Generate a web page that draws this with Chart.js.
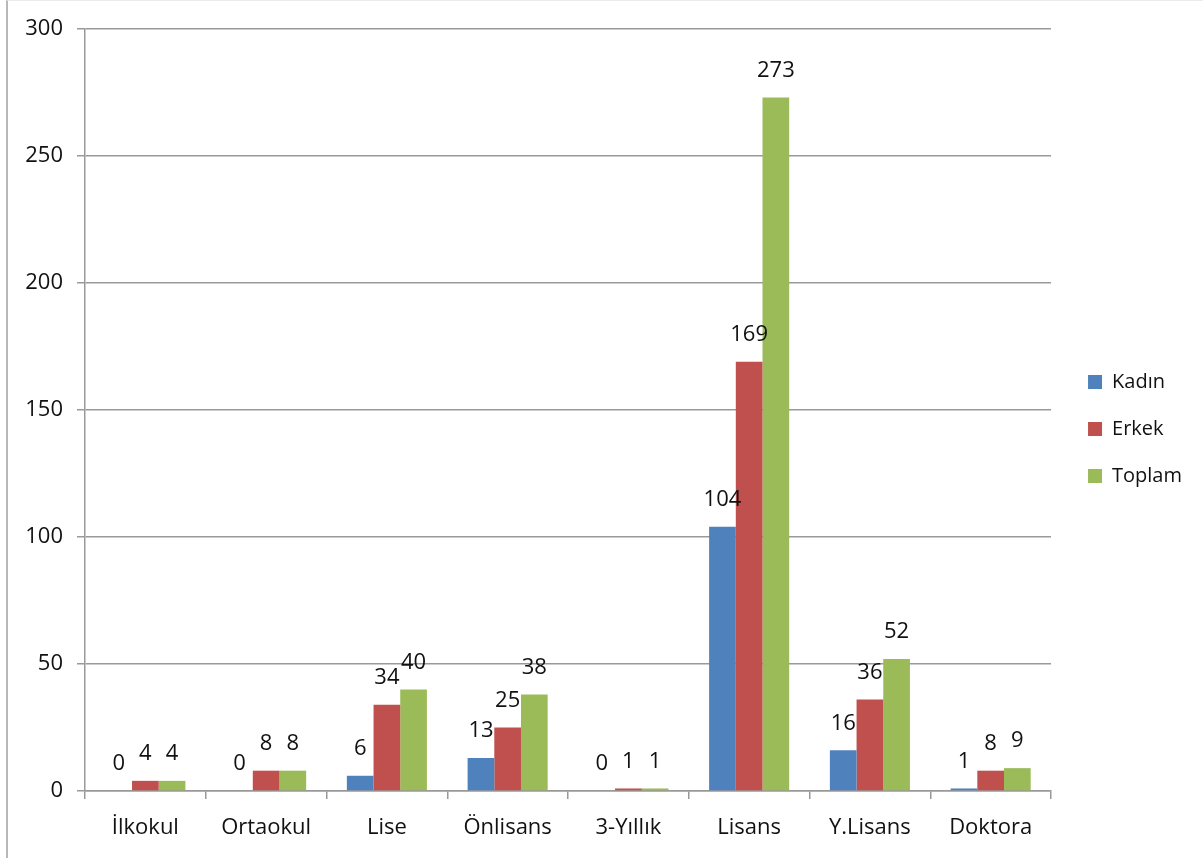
<!DOCTYPE html>
<html lang="tr">
<head>
    <meta charset="UTF-8">
    <title>Eğitim Durumu</title>
    <script src="https://cdn.jsdelivr.net/npm/chart.js"></script>
    <style>
        body { margin: 0; background: #fff; }
        .wrap { position: relative; width: 1203px; height: 858px; }
        .frame {
            position: absolute; left: 6px; top: 0; width: 1195px; height: 870px;
            border-left: 2px solid #b8b8b8; border-right: 1px solid #a8a8a8; border-top: 1px solid #ececec;
            pointer-events: none;
        }
    </style>
</head>
<body>
<div class="wrap">
    <canvas id="egitimChart"></canvas>
    <div class="frame"></div>
</div>
<script>
    // veriler
    const kategoriler = ['İlkokul', 'Ortaokul', 'Lise', 'Önlisans', '3-Yıllık', 'Lisans', 'Y.Lisans', 'Doktora'];
    const kadin = [0, 0, 6, 13, 0, 104, 16, 1];
    const erkek = [4, 8, 34, 25, 1, 169, 36, 8];
    const toplam = [4, 8, 40, 38, 1, 273, 52, 9];
    const yTicks = [0, 50, 100, 150, 200, 250, 300];

    const FONT = "'Open Sans', sans-serif";

    // bar üstüne değer yazan eklenti
    const degerEtiketi = {
        id: 'degerEtiketi',
        afterDatasetsDraw(chart) {
            const ctx = chart.ctx;
            ctx.save();
            ctx.font = '22px ' + FONT;
            ctx.fillStyle = '#111';
            ctx.textAlign = 'center';
            ctx.textBaseline = 'middle';
            chart.data.datasets.forEach((ds, i) => {
                chart.getDatasetMeta(i).data.forEach((bar, j) => {
                    ctx.fillText(ds.data[j], bar.x, bar.y - 27);
                });
            });
            ctx.restore();
        }
    };

    // legend biraz sağa kaysın
    const legendKaydir = {
        id: 'legendKaydir',
        afterLayout(chart) {
            chart.legend.left += 10;
            chart.legend.right += 10;
        }
    };

    new Chart(document.getElementById('egitimChart'), {
        type: 'bar',
        data: {
            labels: kategoriler,
            datasets: [
                { label: 'Kadın', data: kadin, backgroundColor: '#4F81BD' },
                { label: 'Erkek', data: erkek, backgroundColor: '#C0504D' },
                { label: 'Toplam', data: toplam, backgroundColor: '#9BBB59' }
            ]
        },
        options: {
            responsive: true,
            maintainAspectRatio: false,
            animation: false,
            layout: { padding: { top: 0, right: 21, bottom: 0, left: 0 } },
            datasets: { bar: { categoryPercentage: 0.663, barPercentage: 1.0 } },
            plugins: {
                tooltip: { enabled: false },
                legend: {
                    position: 'right',
                    labels: {
                        boxWidth: 14, boxHeight: 14, padding: 27,
                        color: '#111',
                        font: { family: FONT, size: 20 }
                    }
                }
            },
            scales: {
                x: {
                    grid: { drawOnChartArea: false, drawTicks: true, tickLength: 8, color: '#999', lineWidth: 1.5 },
                    border: { color: '#999', width: 1.5 },
                    ticks: { color: '#111', font: { family: FONT, size: 22 }, padding: 16, maxRotation: 0 },
                    afterFit(s) { s.height = 67; }
                },
                // üst boşluk için görünmez eksen
                ust: {
                    type: 'category',
                    position: 'top',
                    grid: { display: false },
                    border: { display: false },
                    ticks: { display: false },
                    afterFit(s) { s.height = 29; }
                },
                y: {
                    min: 0, max: 300,
                    afterBuildTicks(s) { s.ticks = yTicks.map(v => ({ value: v })); },
                    grid: { color: '#999', lineWidth: 1.5, tickLength: 8 },
                    border: { color: '#999', width: 1.5 },
                    ticks: { color: '#111', font: { family: FONT, size: 22 }, padding: 14 },
                    afterFit(s) { s.width = 85; }
                }
            }
        },
        plugins: [degerEtiketi, legendKaydir]
    });
</script>
</body>
</html>
